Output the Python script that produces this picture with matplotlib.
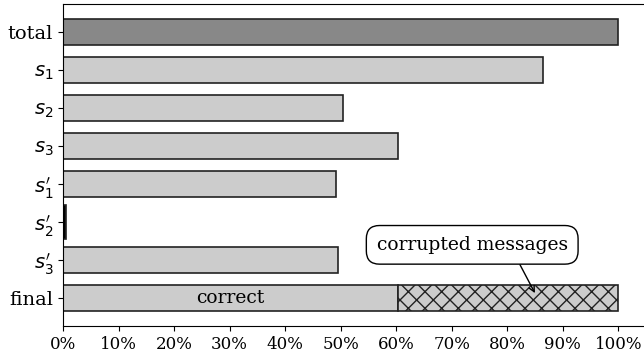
import matplotlib
matplotlib.use("Agg")
import matplotlib.pyplot as plt
from matplotlib.ticker import PercentFormatter

plt.rcParams['font.family'] = 'DejaVu Serif'
plt.rcParams['font.size'] = 12

labels = ["total", "$s_1$", "$s_2$", "$s_3$", "$s_1'$", "$s_2'$", "$s_3'$", "final"]
shares = [100.0, 86.5, 50.5, 60.3, 49.1, 0.6, 49.5, 60.3]
corrupted = 39.7  # remainder of the final stage
colors = ["#888888", "#cccccc", "#cccccc", "#cccccc", "#cccccc", "black", "#cccccc", "#cccccc"]

fig = plt.figure(figsize=(6.44, 3.63), dpi=100)
ax = fig.add_axes([63 / 644, 37 / 363, 583 / 644, 322 / 363])

pos = list(range(len(labels)))
heights = [0.9 if c == "black" else 0.7 for c in colors]
ax.barh(pos, shares, height=heights, color=colors, edgecolor="#222222", linewidth=1.2)
ax.barh(pos[-1], corrupted, left=shares[-1], height=0.7, color="#cccccc",
        edgecolor="#222222", linewidth=1.2, hatch="xx")

ax.set_yticks(pos)
ax.set_yticklabels(labels, fontsize=14)
ax.set_ylim(7.735, -0.735)
ax.set_xlim(0, 105)
ax.set_xticks(range(0, 101, 10))
ax.xaxis.set_major_formatter(PercentFormatter(decimals=0))

ax.text(shares[-1] / 2, pos[-1], "correct", ha="center", va="center", fontsize=13.5)
ax.annotate("corrupted messages", xy=(85, 6.87), xytext=(73.7, 5.6),
            ha="center", va="center", fontsize=13.5,
            bbox=dict(boxstyle="round,pad=0.55,rounding_size=0.7", fc="white", ec="black"),
            arrowprops=dict(arrowstyle="->,head_length=0.3,head_width=0.15", color="black",
                            relpos=(0.72, 0), shrinkA=0, shrinkB=0))

fig.savefig("out.png", dpi=100)
